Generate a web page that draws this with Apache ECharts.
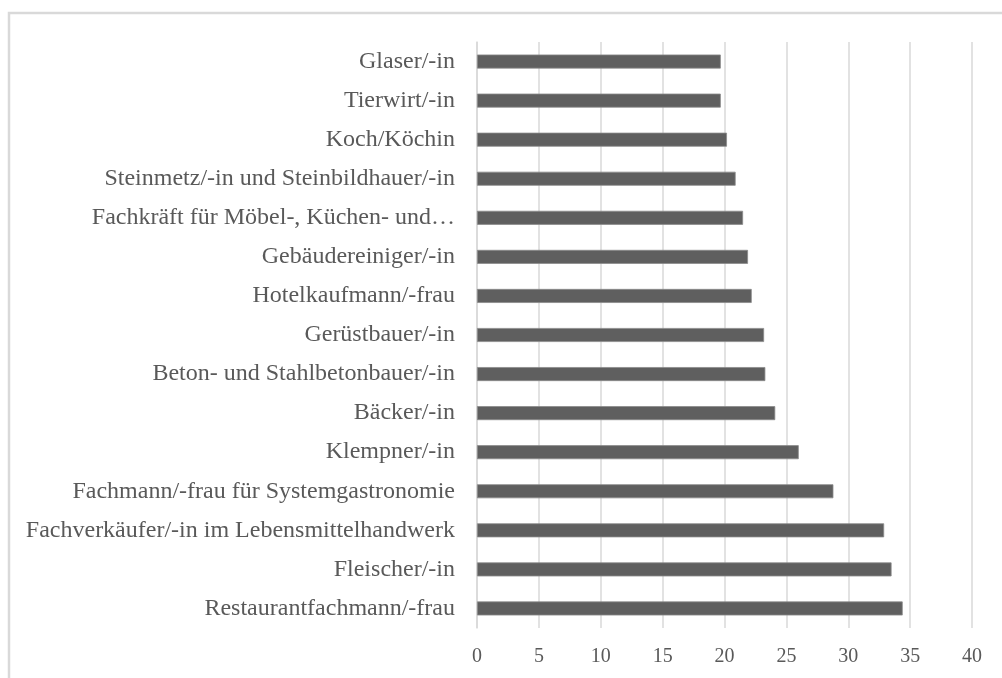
<!DOCTYPE html>
<html>
<head>
<meta charset="utf-8">
<script src="https://cdn.jsdelivr.net/npm/echarts@6/dist/echarts.min.js"></script>
<style>
html,body{margin:0;padding:0;background:#fff;}
#chart{width:1002px;height:678px;}
</style>
</head>
<body>
<div id="chart"></div>
<script>
// Categories listed bottom to top (as ECharts category y-axis draws them)
const categories = [
  "Restaurantfachmann/-frau",
  "Fleischer/-in",
  "Fachverkäufer/-in im Lebensmittelhandwerk",
  "Fachmann/-frau für Systemgastronomie",
  "Klempner/-in",
  "Bäcker/-in",
  "Beton- und Stahlbetonbauer/-in",
  "Gerüstbauer/-in",
  "Hotelkaufmann/-frau",
  "Gebäudereiniger/-in",
  "Fachkräft für Möbel-, Küchen- und…",
  "Steinmetz/-in und Steinbildhauer/-in",
  "Koch/Köchin",
  "Tierwirt/-in",
  "Glaser/-in"
];
const values = [34.4, 33.5, 32.9, 28.8, 26.0, 24.1, 23.3, 23.2, 22.2, 21.9, 21.5, 20.9, 20.2, 19.7, 19.7];
const xTicks = [0, 5, 10, 15, 20, 25, 30, 35, 40];

const chart = echarts.init(document.getElementById('chart'), null, {renderer: 'canvas'});
const FONT = '"Liberation Serif", "Times New Roman", serif';
chart.setOption({
  animation: false,
  backgroundColor: '#ffffff',
  graphic: [{
    type: 'rect',
    shape: {x: 9, y: 13, width: 1200, height: 900},
    style: {fill: 'none', stroke: '#d9d9d9', lineWidth: 2.5},
    silent: true
  }],
  grid: {left: 477, right: 30, top: 42, bottom: 50, containLabel: false},
  xAxis: {
    type: 'value',
    min: xTicks[0],
    max: xTicks[xTicks.length - 1],
    interval: 5,
    axisLine: {show: false},
    axisTick: {show: false},
    splitLine: {show: true, lineStyle: {color: '#d9d9d9', width: 1.5}},
    axisLabel: {color: '#595959', fontFamily: FONT, fontSize: 20, margin: 19}
  },
  yAxis: {
    type: 'category',
    data: categories,
    axisLine: {show: true, lineStyle: {color: '#d9d9d9', width: 1.5}},
    axisTick: {show: false},
    axisLabel: {color: '#595959', fontFamily: FONT, fontSize: 24, margin: 22}
  },
  series: [{
    type: 'bar',
    data: values,
    barWidth: 14,
    itemStyle: {color: '#5f5f5f', borderColor: '#8a8a8a', borderWidth: 0.8}
  }]
});
</script>
</body>
</html>
